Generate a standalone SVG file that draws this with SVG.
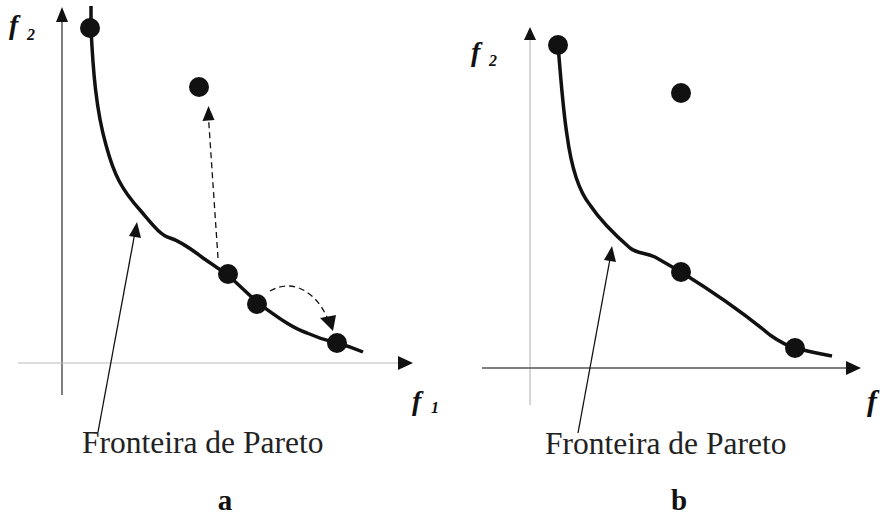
<svg xmlns="http://www.w3.org/2000/svg" width="886" height="518" viewBox="0 0 886 518">
<style>
.axd{stroke:#555;stroke-width:1.5;fill:none}
.axl{stroke:#bbb;stroke-width:1.2;fill:none}
.curve{stroke:#111;stroke-width:3.5;fill:none;stroke-linecap:butt}
.dash{stroke:#111;stroke-width:1.3;fill:none;stroke-dasharray:6,4}
.ptr{stroke:#111;stroke-width:1.3;fill:none}
.dot{fill:#111}
.ah{fill:#111}
text{font-family:'Liberation Serif','Times New Roman','DejaVu Serif',serif}
.lbl{font-size:31.5px;fill:#222}
.cap{font-size:29px;font-weight:bold;fill:#111}
.fv{font-style:italic;font-weight:bold;fill:#111}
</style>

<g id="panel-a">
<g id="axes-a">
<line class="axd" x1="62" y1="395" x2="62" y2="20"/>
<path class="ah" d="M56,22 L62,7 L68,22 Z"/>
<line class="axl" x1="18" y1="363" x2="400" y2="363"/>
<path class="ah" d="M398,356 L413,363 L398,370 Z"/>
<text class="fv" x="9" y="34" font-size="28">f</text>
<text class="fv" x="27" y="40" font-size="16">2</text>
<text class="fv" x="412" y="410" font-size="28">f</text>
<text class="fv" x="431" y="413" font-size="16">1</text>
</g>
<g id="curve-a">
<path class="curve" d="M91,6 L91,28 C93,70 96,110 106,145 C114,175 122,190 140,210 C152,224 160,235 170,238 C180,241 190,248 203,258 L228,275 L258,303 C275,315 290,327 307,333 C318,338 328,341 337,343 C348,346 356,349 363,352"/>
</g>
<g id="node-a1"><circle class="dot" cx="90" cy="28" r="10"/></g>
<g id="node-a2"><circle class="dot" cx="199" cy="87" r="10"/></g>
<g id="node-a3"><circle class="dot" cx="228" cy="274" r="10"/></g>
<g id="node-a4"><circle class="dot" cx="257" cy="304" r="10"/></g>
<g id="node-a5"><circle class="dot" cx="337" cy="343" r="10"/></g>
<g id="label-a">
<text class="lbl" x="82" y="453">Fronteira de Pareto</text>
<text class="cap" x="225" y="510" text-anchor="middle">a</text>
</g>
</g>

<g id="panel-b">
<g id="axes-b">
<line class="axl" x1="530" y1="405" x2="530" y2="38"/>
<path class="ah" d="M524,40 L530,27 L536,40 Z"/>
<line class="axd" x1="482" y1="368" x2="848" y2="368" stroke="#111"/>
<path class="ah" d="M846,361 L861,368 L846,375 Z"/>
<text class="fv" x="471" y="61" font-size="28">f</text>
<text class="fv" x="489" y="66" font-size="16">2</text>
<text class="fv" x="867" y="411" font-size="30">f</text>
</g>
<g id="curve-b">
<path class="curve" d="M558,45 C561,80 563,110 567,135 C571,165 578,190 590,205 C600,220 615,235 630,248 C638,254 644,252 655,257 L681,272 C710,290 740,310 770,335 C780,342 788,346 795,348 C810,352 822,354 832,356"/>
</g>
<g id="node-b1"><circle class="dot" cx="558" cy="45" r="10"/></g>
<g id="node-b2"><circle class="dot" cx="681" cy="93" r="10"/></g>
<g id="node-b3"><circle class="dot" cx="681" cy="272" r="10"/></g>
<g id="node-b4"><circle class="dot" cx="795" cy="348" r="10"/></g>
<g id="label-b">
<text class="lbl" x="545" y="454">Fronteira de Pareto</text>
<text class="cap" x="679" y="510" text-anchor="middle">b</text>
</g>
</g>

<g id="connectors">
<line class="dash" x1="218" y1="258" x2="208.5" y2="118"/>
<path class="ah" d="M202.5,121 L208.5,106 L214.5,120 Z"/>
<path class="dash" d="M270,291 C282,284 296,284 308,293 C318,300 323,309 327,317"/>
<path class="ah" d="M320,318 L333,331 L336,315 Z"/>
<line class="ptr" x1="98" y1="432" x2="134.5" y2="235"/>
<path class="ah" d="M129,236 L137,222 L141,238 Z"/>
<line class="ptr" x1="578" y1="433" x2="610" y2="259"/>
<path class="ah" d="M604,260 L612,246 L616,262 Z"/>
</g>
</svg>
